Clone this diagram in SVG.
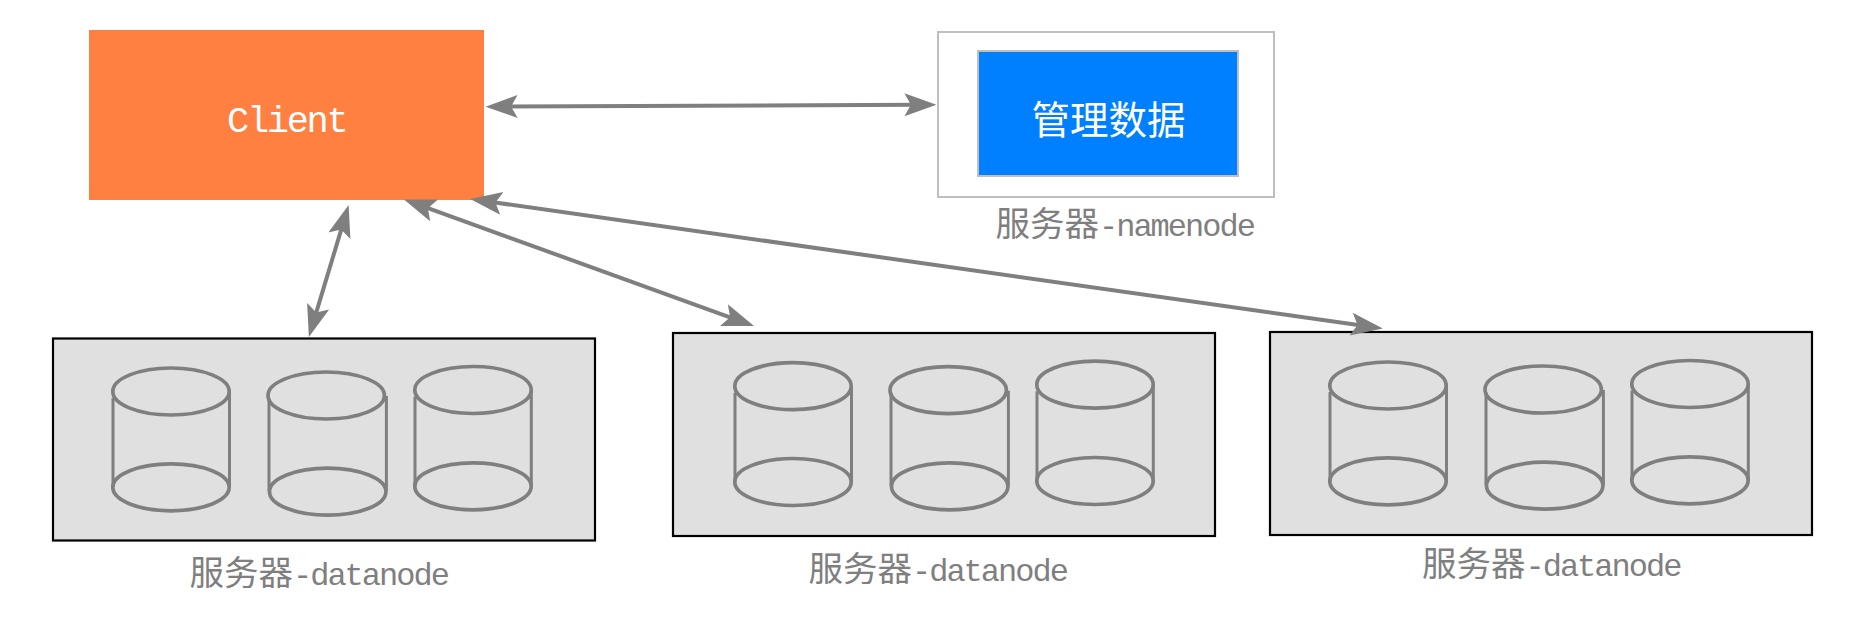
<svg xmlns="http://www.w3.org/2000/svg" xmlns:xlink="http://www.w3.org/1999/xlink" width="1851" height="629" viewBox="0 0 1851 629">
  <style>
    text { font-family: "Noto Sans CJK SC", "Liberation Sans", sans-serif; }
    .mono { font-family: "Liberation Mono", "Noto Sans CJK SC", monospace; }
    .box { fill: #e0e0e0; stroke: #000; stroke-width: 2.2; }
    .disk { fill: none; stroke: #7f7f7f; stroke-width: 3.7; }
    .side { stroke-width: 3; }
    .link { fill: none; stroke: #7f7f7f; stroke-width: 4; marker-start: url(#head); marker-end: url(#head); }
    .label { fill: #7f7f7f; }
    .cjk { font-size: 34.5px; }
    .lat { font-family: "Liberation Mono", monospace; font-size: 32px; letter-spacing: -2px; }
  </style>
  <defs>
    <marker id="head" markerUnits="userSpaceOnUse" markerWidth="34" markerHeight="26" viewBox="0 0 34 26" refX="16" refY="13" orient="auto-start-reverse">
      <path d="M0,1.5 L32,13 L0,24.5 L6.5,13 Z" fill="#7f7f7f"/>
    </marker>
    <g id="disks">
      <g class="disk">
        <ellipse cx="171" cy="391.5" rx="58.2" ry="23.5"/>
        <ellipse cx="171" cy="487.3" rx="58.2" ry="23.5"/>
        <path class="side" d="M113,398 V487 M229.5,391 V487"/>
        <ellipse cx="326.2" cy="395.5" rx="58.2" ry="23.5"/>
        <ellipse cx="327.7" cy="491.7" rx="58.2" ry="23.5"/>
        <path class="side" d="M269,398 V491 M386.4,396 V491"/>
        <ellipse cx="473" cy="390" rx="58.2" ry="23.5"/>
        <ellipse cx="473" cy="486.3" rx="58.2" ry="23.5"/>
        <path class="side" d="M415,396.5 V486 M531.3,390 V486"/>
      </g>
    </g>
  </defs>
  <rect width="1851" height="629" fill="#fff"/>

  <g id="client">
    <rect x="89" y="30" width="395" height="170" fill="#ff8040"/>
    <text class="mono" x="227" y="132" font-size="37" letter-spacing="-2.3" fill="#fff">Client</text>
  </g>

  <g id="namenode">
    <rect x="938" y="32" width="336" height="165" fill="#fff" stroke="#bfbfbf" stroke-width="2"/>
    <rect x="978" y="51" width="260" height="125" fill="#0080ff" stroke="#bfbfbf" stroke-width="2"/>
    <text x="1031.5" y="134" font-size="38.5" fill="#fff">管理数据</text>
    <text class="label" x="995.5" y="236"><tspan class="cjk">服务器</tspan><tspan class="lat">-namenode</tspan></text>
  </g>

  <g id="datanode1">
    <rect class="box" x="53" y="338.5" width="542" height="202"/>
    <use xlink:href="#disks" href="#disks"/>
    <text class="label" x="189.5" y="585"><tspan class="cjk">服务器</tspan><tspan class="lat">-datanode</tspan></text>
  </g>

  <g id="datanode2">
    <rect class="box" x="673" y="333" width="542" height="203"/>
    <use xlink:href="#disks" href="#disks" transform="translate(622,-5.3)"/>
    <text class="label" x="808.5" y="581"><tspan class="cjk">服务器</tspan><tspan class="lat">-datanode</tspan></text>
  </g>

  <g id="datanode3">
    <rect class="box" x="1270" y="332" width="542" height="203"/>
    <use xlink:href="#disks" href="#disks" transform="translate(1217,-6)"/>
    <text class="label" x="1422" y="576"><tspan class="cjk">服务器</tspan><tspan class="lat">-datanode</tspan></text>
  </g>

  <g id="connectors">
    <line class="link" x1="501.6" y1="106.6" x2="920.4" y2="104.8"/>
    <line class="link" x1="344" y1="220.4" x2="313.5" y2="321.6"/>
    <line class="link" x1="419" y1="204.9" x2="739" y2="320.6"/>
    <line class="link" x1="486" y1="201.2" x2="1367" y2="326.3"/>
  </g>
</svg>
